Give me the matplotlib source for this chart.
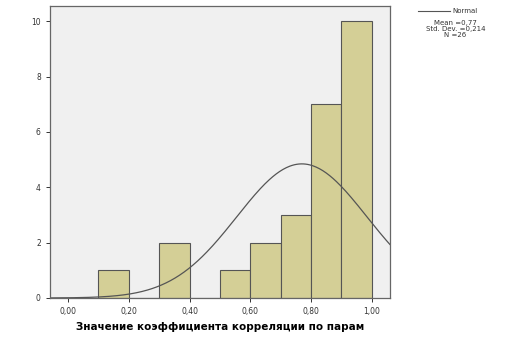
import numpy as np
import matplotlib.pyplot as plt

bin_edges = [0.1, 0.2, 0.3, 0.4, 0.5, 0.6, 0.7, 0.8, 0.9, 1.0]
counts = [1, 0, 2, 0, 1, 2, 3, 7, 10]
mean = 0.77
std = 0.214
n = 26
xticks = [0.0, 0.2, 0.4, 0.6, 0.8, 1.0]
yticks = [0, 2, 4, 6, 8, 10]

fig = plt.figure(figsize=(5.09, 3.39), dpi=100)
ax = fig.add_axes([0.098, 0.121, 0.668, 0.861])
ax.set_facecolor('#f0f0f0')

lefts = bin_edges[:-1]
widths = np.diff(bin_edges)
ax.bar(lefts, counts, width=widths, align='edge', color='#d4cf96',
       edgecolor='#555555', linewidth=0.8)

xs = np.linspace(-0.06, 1.06, 300)
bw = bin_edges[1] - bin_edges[0]
ys = n * bw / (std * np.sqrt(2 * np.pi)) * np.exp(-0.5 * ((xs - mean) / std) ** 2)
ax.plot(xs, ys, color='#555555', linewidth=0.9)

ax.set_xlim(-0.06, 1.06)
ax.set_ylim(0, 10.55)
ax.set_xticks(xticks)
ax.set_xticklabels([f'{t:.2f}'.replace('.', ',') for t in xticks])
ax.set_yticks(yticks)
ax.tick_params(labelsize=5.5, colors='#333333', length=3, width=0.7)
for s in ax.spines.values():
    s.set_color('#666666')
    s.set_linewidth(0.9)

ax.set_xlabel('Значение коэффициента корреляции по парам', fontsize=7.5,
              fontweight='bold', labelpad=4)

fig.lines.append(plt.Line2D([0.822, 0.885], [0.968, 0.968], transform=fig.transFigure,
                            color='#555555', linewidth=0.8))
fig.text(0.889, 0.968, 'Normal', fontsize=5, va='center', color='#333333')
fig.text(0.895, 0.94, 'Mean =0,77\nStd. Dev. =0,214\nN =26', fontsize=5,
         va='top', ha='center', color='#333333', linespacing=1.0)

fig.savefig('out.png', dpi=100)
